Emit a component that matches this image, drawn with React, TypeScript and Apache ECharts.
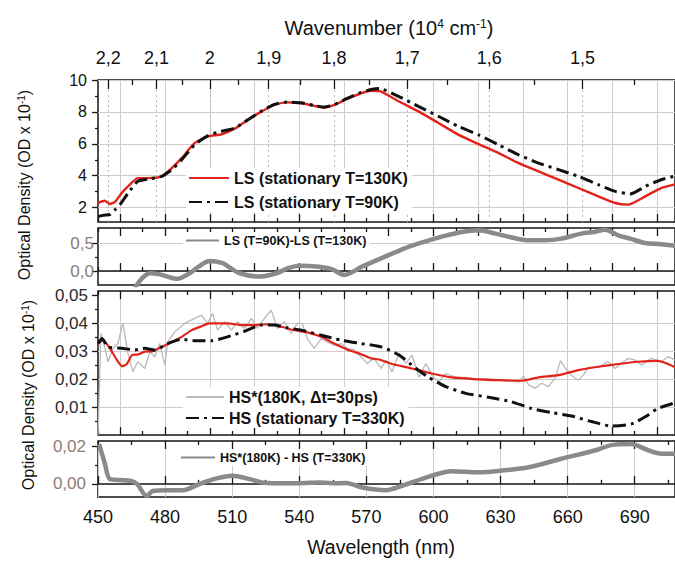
import React, { useEffect, useRef } from 'react';
import * as echarts from 'echarts';

const FONT = 'Liberation Sans, Arial, Helvetica, sans-serif';
const WL_MIN = 450;
const WL_MAX = 708;

// ---- Panel 1: LS stationary spectra (OD x 10^-1) ----
const ls130: [number, number][] = [
  [450, 2.29], [453, 2.43], [455.3, 2.23], [457.6, 2.36], [460.6, 2.92], [463.4, 3.33], [467.8, 3.85],
  [472.3, 3.85], [478.5, 3.96], [483, 4.48], [487.4, 5.1], [493.2, 6.04], [499, 6.46], [505.3, 6.6],
  [511.1, 6.94], [516.9, 7.5], [523.1, 8.02], [528.9, 8.44], [534.7, 8.6], [540.9, 8.54], [546.7, 8.38],
  [551.2, 8.27], [555.6, 8.44], [561.4, 8.81], [567.6, 9.17], [572.1, 9.33], [576, 9.3], [584.6, 8.65],
  [593.5, 8.02], [602.4, 7.29], [611.3, 6.56], [620.2, 5.98], [629.1, 5.42], [638.1, 4.79], [647, 4.27],
  [655.9, 3.75], [664.8, 3.23], [673.7, 2.71], [681.3, 2.29], [687.1, 2.19], [694.7, 2.71], [701.8, 3.23],
  [708, 3.46],
];
const ls90: [number, number][] = [
  [450, 1.45], [452.5, 1.52], [455.5, 1.58], [457.5, 1.85], [459.8, 2.19], [463.4, 2.9], [467.8, 3.65],
  [472.3, 3.79], [478.5, 3.96], [483, 4.38], [487.4, 5.0], [493.2, 5.94], [499, 6.5], [503.5, 6.73],
  [511.1, 6.98], [516.9, 7.5], [523.1, 8.05], [528.9, 8.47], [534.7, 8.62], [540.9, 8.57], [546.7, 8.4],
  [551.2, 8.3], [555.6, 8.45], [561.4, 8.85], [567.6, 9.22], [572.1, 9.4], [575.7, 9.47], [584.6, 8.96],
  [593.5, 8.33], [602.4, 7.71], [611.3, 7.08], [620.2, 6.56], [629.1, 5.94], [638.1, 5.31], [647, 4.79],
  [655.9, 4.38], [664.8, 3.96], [673.7, 3.44], [681.3, 3.02], [688, 2.86], [694.7, 3.33], [701.8, 3.75],
  [708, 3.98],
];

// ---- Panel 2: LS difference ----
const lsDiff: [number, number][] = [
  [466.5, -0.3], [470, -0.12], [473.2, -0.04], [477.6, -0.06], [481, -0.1], [485.2, -0.14], [491, -0.04],
  [495, 0.08], [499.9, 0.18], [505.7, 0.14], [509, 0.06], [513.3, -0.04], [522.2, -0.1], [529.8, -0.04],
  [535, 0.05], [540, 0.095], [547.6, 0.08], [554.7, 0.03], [560.1, -0.07], [568.1, 0.08], [575, 0.2],
  [583.2, 0.34], [590, 0.45], [598, 0.55], [605, 0.63], [612.7, 0.7], [620.2, 0.73], [627.8, 0.67],
  [635, 0.6], [642.5, 0.55], [650, 0.55], [657.2, 0.58], [666.1, 0.67], [672, 0.7], [676.8, 0.74],
  [682.6, 0.64], [688, 0.58], [694.7, 0.5], [701.8, 0.48], [708, 0.45],
];

// ---- Panel 3: HS spectra ----
const hsStar: [number, number][] = [
  [450, 0], [451.3, 0.0363], [453.1, 0.031], [454.5, 0.0262], [456.7, 0.031], [458.9, 0.0327], [461.1, 0.04],
  [463.4, 0.0292], [465.6, 0.0226], [467.8, 0.0262], [470.9, 0.0238], [473.2, 0.0298], [475.4, 0.028],
  [477.6, 0.0327], [479.9, 0.025], [481.2, 0.0333], [484.3, 0.0369], [488.8, 0.0399], [493.2, 0.0417],
  [496.3, 0.0429], [499, 0.0399], [501.2, 0.0435], [503.5, 0.0375], [506.6, 0.0405], [509.7, 0.0375],
  [512.4, 0.0405], [515.5, 0.0381], [518.6, 0.0417], [521.3, 0.0381], [524.4, 0.0417], [527.5, 0.0446],
  [530.2, 0.0381], [533.3, 0.0405], [536.4, 0.0363], [539.1, 0.0399], [541.3, 0.0399], [543.6, 0.0345],
  [546.7, 0.031], [549.8, 0.0345], [552.5, 0.0333], [555.6, 0.0321], [558.7, 0.0327], [561.4, 0.031],
  [564.5, 0.0304], [567.6, 0.028], [570.3, 0.0256], [573.4, 0.0274], [576.6, 0.0238], [578.8, 0.0268],
  [581.5, 0.0226], [584.6, 0.0292], [587.7, 0.0256], [590.4, 0.0286], [593.5, 0.0206], [596.6, 0.0256],
  [599.3, 0.0214], [602.4, 0.019], [605.5, 0.022], [610, 0.0206], [614.4, 0.0206], [618.9, 0.0199],
  [623.3, 0.0202], [627.8, 0.0199], [632.3, 0.0196], [638.1, 0.019], [640.3, 0.0211], [642.5, 0.0179],
  [645.6, 0.0167], [648.3, 0.0185], [651.4, 0.0173], [654.5, 0.0206], [656.8, 0.0266], [659, 0.0238],
  [661.7, 0.0214], [664.8, 0.0196], [667, 0.0214], [669.2, 0.0242], [673.7, 0.0242], [678.1, 0.0262],
  [681.3, 0.0238], [683.9, 0.0256], [687.1, 0.0274], [690.2, 0.0268], [692.9, 0.025], [697.3, 0.0274],
  [701.8, 0.0262], [704.9, 0.028], [708, 0.0268],
];
const hsStarSmooth: [number, number][] = [
  [450, 0.0327], [452.2, 0.0339], [455.3, 0.031], [458.5, 0.0268], [460.7, 0.0246], [462.9, 0.0254],
  [465.2, 0.0286], [467.8, 0.0288], [470.9, 0.0298], [474.5, 0.03], [478.5, 0.0315], [483, 0.0333],
  [487.4, 0.0351], [491.9, 0.0375], [496.3, 0.0389], [499.9, 0.0399], [507.9, 0.0399], [514.2, 0.0393],
  [520, 0.0393], [525.8, 0.0396], [532, 0.0387], [537.8, 0.0375], [543.6, 0.0367], [549.8, 0.0351],
  [555.6, 0.0327], [561.4, 0.0306], [567.6, 0.0289], [572.1, 0.0274], [575.7, 0.027], [581.5, 0.0254],
  [590.4, 0.0238], [599.3, 0.022], [608.2, 0.0206], [620.2, 0.0199], [629.1, 0.0196], [639.4, 0.0194],
  [647, 0.0206], [655.9, 0.0214], [664.8, 0.0232], [673.7, 0.0244], [682.6, 0.0254], [691.5, 0.0262],
  [700.4, 0.0265], [704.9, 0.0254], [708, 0.0242],
];
const hs330: [number, number][] = [
  [450, 0.0327], [451.8, 0.0345], [454.5, 0.0315], [460.7, 0.031], [466.5, 0.0304], [470.9, 0.031],
  [475.4, 0.0304], [481.2, 0.0327], [487.4, 0.0342], [493.2, 0.0337], [500.8, 0.0337], [507.9, 0.0351],
  [515.5, 0.0371], [523.1, 0.0393], [528.9, 0.0393], [534.7, 0.0383], [540.9, 0.0375], [549.8, 0.0357],
  [558.7, 0.0339], [567.6, 0.0327], [576.6, 0.0315], [584.6, 0.0286], [592.2, 0.0238], [597.9, 0.0206],
  [605.5, 0.0173], [614.4, 0.0149], [624.7, 0.0135], [634.9, 0.0119], [643.8, 0.0095], [652.8, 0.008],
  [661.7, 0.0068], [670.6, 0.0048], [679.5, 0.0032], [688.4, 0.0039], [694.7, 0.0065], [700.4, 0.0095],
  [708, 0.0115],
];

// ---- Panel 4: HS difference ----
const hsDiff: [number, number][] = [
  [450.5, 0.021], [453.1, 0.0106], [455.3, 0.0025], [459.8, 0.002], [464.3, 0.0016], [467.4, 0.0],
  [471.8, -0.0065], [474.5, -0.0038], [480.7, -0.0034], [487.9, -0.0034], [495.5, 0.0], [503, 0.0029],
  [510.2, 0.0043], [517.7, 0.0025], [525.3, 0.0004], [532.4, 0.0003], [540, 0.0003], [548.9, 0.0007],
  [554.7, 0.0003], [561, 0.0004], [568.1, -0.002], [578.8, -0.0034], [585.9, -0.0011], [598, 0.0038],
  [608.2, 0.0067], [620.2, 0.0061], [630.5, 0.007], [642.5, 0.0088], [657.2, 0.0133], [672.4, 0.0178],
  [679.5, 0.0205], [688.4, 0.0211], [696, 0.0178], [701.8, 0.016], [708, 0.016],
];

// ---- Tick values ----
const wnMajor = [2.2, 2.1, 2.0, 1.9, 1.8, 1.7, 1.6, 1.5];
const wnMinor = [2.15, 2.05, 1.95, 1.85, 1.75, 1.65, 1.55, 1.45];
const nmMajor20 = [460, 480, 500, 520, 540, 560, 580, 600, 620, 640, 660, 680, 700];
const nmMinor10 = [450, 470, 490, 510, 530, 550, 570, 590, 610, 630, 650, 670, 690];
const nmMajor30 = [450, 480, 510, 540, 570, 600, 630, 660, 690];
const nmMinor15 = [465, 495, 525, 555, 585, 615, 645, 675, 705];
const y1Major = [2, 4, 6, 8, 10];
const y1Minor = [3, 5, 7, 9];
const y2Major = [0, 0.5];
const y2Minor = [0.25];
const y3Major = [0.01, 0.02, 0.03, 0.04, 0.05];
const y3Minor = [0.005, 0.015, 0.025, 0.035, 0.045];
const y4Major = [0, 0.02];
const y4Minor = [0.01];

const GRIDC = '#d3caca';
const AX = '#151515';
const TAUPE = '#8d7c77';

const comma = (v: number, d: number) => v.toFixed(d).replace('.', ',');

function xAx(gi: number, pos: string, ticks: number[], len: number, extra: any = {}) {
  return {
    type: 'value', gridIndex: gi, position: pos, min: WL_MIN, max: WL_MAX,
    axisLine: { show: false },
    axisTick: { show: true, inside: true, length: len, customValues: ticks, lineStyle: { color: AX, width: 1.3 } },
    axisLabel: { show: false },
    splitLine: { show: false },
    ...extra,
  };
}
function yAx(gi: number, min: number, max: number, ticks: number[], len: number, extra: any = {}) {
  return {
    type: 'value', gridIndex: gi, position: 'left', min, max,
    axisLine: { show: false },
    axisTick: { show: true, inside: false, length: len, customValues: ticks, lineStyle: { color: AX, width: 1.3 } },
    axisLabel: { show: false },
    splitLine: { show: false },
    ...extra,
  };
}

const wnToNm = (w: number) => 1000 / w;

function legendOf(names: string[], left: number, top: number, fontSize: number, itemWidth: number, itemGap: number) {
  return {
    show: true, orient: 'vertical', left, top, data: names, itemWidth, itemHeight: 12, itemGap,
    padding: [2, 4, 2, 2], backgroundColor: '#ffffff', selectedMode: false,
    itemStyle: { opacity: 0 },
    textStyle: { fontFamily: FONT, fontWeight: 'bold', fontSize, color: '#111' },
  };
}

export default function App() {
  const ref = useRef<HTMLDivElement>(null);
  useEffect(() => {
    if (!ref.current) return;
    const chart = echarts.init(ref.current, undefined, { renderer: 'svg' });
    const grids = [
      { top: 80, height: 142 },
      { top: 228, height: 57 },
      { top: 291, height: 144 },
      { top: 441, height: 56 },
    ].map((g) => ({ ...g, left: 98, right: -2, show: true, borderColor: AX, borderWidth: 1.5, backgroundColor: 'transparent' }));

    const xAxis = [
      xAx(0, 'bottom', nmMajor20, 8, { splitLine: { show: true, lineStyle: { color: GRIDC, width: 1 } } }),
      xAx(0, 'bottom', nmMinor10, 4),
      xAx(0, 'top', wnMajor.map(wnToNm), 9, {
        axisLabel: {
          show: true, customValues: wnMajor.map(wnToNm), margin: 13, fontSize: 18, fontFamily: FONT, color: '#111',
          formatter: (v: number) => String(Number((1000 / v).toFixed(2))).replace('.', ','),
        },
        splitLine: { show: true, lineStyle: { color: '#bdb5b5', width: 1, type: [2, 3] } },
      }),
      xAx(0, 'top', wnMinor.map(wnToNm), 5),
      xAx(1, 'bottom', nmMajor20, 8),
      xAx(1, 'bottom', nmMinor10, 4),
      xAx(1, 'top', nmMajor20, 8),
      xAx(1, 'top', nmMinor10, 4),
      xAx(2, 'bottom', nmMajor20, 8, { splitLine: { show: true, lineStyle: { color: GRIDC, width: 1 } } }),
      xAx(2, 'bottom', nmMinor10, 4),
      xAx(2, 'top', nmMajor20, 8),
      xAx(2, 'top', nmMinor10, 4),
      xAx(3, 'bottom', nmMajor30, 8, {
        splitLine: { show: true, lineStyle: { color: GRIDC, width: 1 } },
        axisLabel: { show: true, customValues: nmMajor30, margin: 11, fontSize: 18, fontFamily: FONT, color: '#111', formatter: (v: number) => String(v) },
      }),
      xAx(3, 'bottom', nmMinor15, 4),
      xAx(3, 'top', nmMajor30, 8),
      xAx(3, 'top', nmMinor15, 4),
    ];

    const yAxis = [
      yAx(0, 1.1, 10, y1Major, 6, {
        axisLabel: { show: true, customValues: y1Major, margin: 11, fontSize: 16, fontFamily: FONT, color: '#111', formatter: (v: number) => String(v) },
        splitLine: { show: true, lineStyle: { color: GRIDC, width: 1 } },
      }),
      yAx(0, 1.1, 10, y1Minor, 3),
      yAx(1, -0.25, 0.77, y2Major, 6, {
        axisLabel: { show: true, customValues: y2Major, margin: 4, fontSize: 17, fontFamily: FONT, color: TAUPE, formatter: (v: number) => comma(v, 1) },
        splitLine: { show: true, lineStyle: { color: GRIDC, width: 1 } },
      }),
      yAx(1, -0.25, 0.77, y2Minor, 3),
      yAx(2, 0, 0.0515, y3Major, 6, {
        axisLabel: { show: true, customValues: y3Major, margin: 10, fontSize: 17, fontFamily: FONT, color: '#2a2a2a', formatter: (v: number) => comma(v, 2) },
        splitLine: { show: true, lineStyle: { color: [GRIDC, GRIDC, GRIDC, GRIDC, 'rgba(0,0,0,0)'], width: 1 } },
      }),
      yAx(2, 0, 0.0515, y3Minor, 3),
      yAx(3, -0.007, 0.0227, y4Major, 6, {
        axisLabel: { show: true, customValues: y4Major, margin: 12, fontSize: 17, fontFamily: FONT, color: TAUPE, formatter: (v: number) => comma(v, 2) },
      }),
      yAx(3, -0.007, 0.0227, y4Minor, 3),
    ];

    const zeroLine = {
      silent: true, symbol: 'none', z: 1, label: { show: false },
      lineStyle: { color: AX, width: 1.5, type: 'solid' },
      data: [{ yAxis: 0 }],
    };

    const line = (name: string, data: [number, number][], xi: number, yi: number, color: string, width: number, type: any = 'solid', smooth: any = 0.25, extra: any = {}) => ({
      type: 'line', name, data, xAxisIndex: xi, yAxisIndex: yi, symbol: 'none', showSymbol: false, smooth,
      lineStyle: { color, width, type }, itemStyle: { color }, ...extra,
    });

    const DASHDOT = [13, 5, 3, 5];

    const option: any = {
      animation: false,
      textStyle: { fontFamily: FONT },
      grid: grids,
      xAxis,
      yAxis,
      legend: [
        legendOf(['LS (stationary T=130K)', 'LS (stationary T=90K)'], 186, 168, 16, 40, 8),
        legendOf(['LS (T=90K)-LS (T=130K)'], 183, 232, 12.5, 33, 5),
        legendOf(['HS*(180K, \u0394t=30ps)', 'HS (stationary T=330K)'], 183, 387, 16, 38, 5),
        legendOf(['HS*(180K) - HS (T=330K)'], 178, 449, 12.5, 34, 5),
      ],
      series: [
        line('LS (stationary T=130K)', ls130, 0, 0, '#e2231c', 2.4, 'solid', 0.2, { z: 3 }),
        line('LS (stationary T=90K)', ls90, 0, 0, '#111111', 3, DASHDOT, 0.2, { z: 4 }),
        line('LS (T=90K)-LS (T=130K)', lsDiff, 4, 2, '#8a8a8a', 4.5, 'solid', 0.3, { markLine: zeroLine }),
        line('HS*(180K, \u0394t=30ps)', hsStar, 8, 4, '#b9b9b9', 1.3, 'solid', false),
        line('HS*(180K) smoothed', hsStarSmooth, 8, 4, '#e2231c', 2.2, 'solid', 0.2, { z: 3 }),
        line('HS (stationary T=330K)', hs330, 8, 4, '#111111', 3, DASHDOT, 0.2, { z: 4 }),
        line('HS*(180K) - HS (T=330K)', hsDiff, 12, 6, '#8a8a8a', 4.5, 'solid', 0.3, { markLine: zeroLine }),
      ],
      graphic: [
        {
          type: 'text', x: 389, y: 28,
          style: {
            text: 'Wavenumber (10{s|4} cm{s|-1})', fontSize: 20, fontFamily: FONT, fill: '#111', align: 'center', verticalAlign: 'middle',
            rich: { s: { fontSize: 12, fontFamily: FONT, verticalAlign: 'top', fill: '#111' } },
          },
        },
        {
          type: 'text', x: 381, y: 547,
          style: { text: 'Wavelength (nm)', fontSize: 19.5, fontFamily: FONT, fill: '#111', align: 'center', verticalAlign: 'middle' },
        },
        {
          type: 'text', x: 24, y: 185, rotation: Math.PI / 2,
          style: {
            text: 'Optical Density (OD x 10{s|-1})', fontSize: 16, fontFamily: FONT, fill: '#111', align: 'center', verticalAlign: 'middle',
            rich: { s: { fontSize: 10, fontFamily: FONT, verticalAlign: 'top', fill: '#111' } },
          },
        },
        {
          type: 'text', x: 28, y: 395, rotation: Math.PI / 2,
          style: {
            text: 'Optical Density (OD x 10{s|-1})', fontSize: 16, fontFamily: FONT, fill: '#111', align: 'center', verticalAlign: 'middle',
            rich: { s: { fontSize: 10, fontFamily: FONT, verticalAlign: 'top', fill: '#111' } },
          },
        },
      ],
    };
    chart.setOption(option);
    return () => chart.dispose();
  }, []);
  return <div ref={ref} style={{ position: 'absolute', left: 0, top: 0, width: 675, height: 561, background: '#fff' }} />;
}
